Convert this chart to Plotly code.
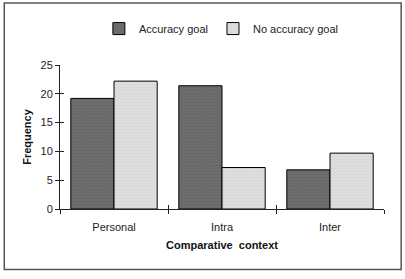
import plotly.graph_objects as go

categories = ["Personal", "Intra", "Inter"]
accuracy_goal = [19.2, 21.4, 6.8]
no_accuracy_goal = [22.2, 7.2, 9.7]
series_names = ["Accuracy goal", "No accuracy goal"]
y_ticks = [0, 5, 10, 15, 20, 25]

FONT = "Liberation Sans, Arial, sans-serif"
DARK = "#6d6d6d"
LIGHT = "#dedede"

fig = go.Figure()
fig.add_trace(go.Bar(x=categories, y=accuracy_goal, name=series_names[0],
                     marker=dict(color=DARK, line=dict(color="black", width=1),
                                 pattern=dict(shape=".", fgcolor="#5a5a5a", bgcolor=DARK,
                                              size=3, solidity=0.25))))
fig.add_trace(go.Bar(x=categories, y=no_accuracy_goal, name=series_names[1],
                     marker=dict(color=LIGHT, line=dict(color="black", width=1),
                                 pattern=dict(shape=".", fgcolor="#c8c8c8", bgcolor=LIGHT,
                                              size=3, solidity=0.25))))
# invisible trace to drive overlay axes (used for crossing tick marks)
fig.add_trace(go.Bar(x=categories, y=accuracy_goal, xaxis="x2", yaxis="y2",
                     marker=dict(opacity=0), showlegend=False, hoverinfo="skip"))

fig.update_layout(
    width=405, height=279,
    margin=dict(l=60, r=21, t=65, b=70),
    paper_bgcolor="white", plot_bgcolor="white",
    font=dict(family=FONT, size=11, color="#222"),
    barmode="group", bargap=0.2, bargroupgap=0,
    showlegend=True,
    legend=dict(orientation="h", x=0.12, xanchor="left", y=1.253, yanchor="middle",
                font=dict(size=11, color="#222"), bgcolor="rgba(0,0,0,0)",
                itemwidth=30, tracegroupgap=0),
    xaxis=dict(type="category", categoryarray=categories, range=[-0.5, 2.5],
               showline=True, linecolor="#222", linewidth=1,
               ticks="outside", tickson="boundaries", ticklen=4, tickcolor="#222",
               ticklabelstandoff=8,
               showgrid=False, zeroline=False,
               title=dict(text="<b>Comparative  context</b>", font=dict(size=11, color="#111"), standoff=9)),
    yaxis=dict(range=[0, 25], tickvals=y_ticks, showline=True, linecolor="#222", linewidth=1,
               ticks="outside", ticklen=4, tickcolor="#222", showgrid=False, zeroline=False,
               title=dict(text="<b>Frequency</b>", font=dict(size=11, color="#111"), standoff=6)),
    xaxis2=dict(type="category", categoryarray=categories, range=[-0.5, 2.5], overlaying="x",
                anchor="y2", ticks="inside", tickson="boundaries", ticklen=4, tickcolor="#222",
                showticklabels=False, showgrid=False, zeroline=False, showline=False),
    yaxis2=dict(range=[0, 25], tickvals=y_ticks, overlaying="y", anchor="x2",
                ticks="inside", ticklen=4, tickcolor="#222",
                showticklabels=False, showgrid=False, zeroline=False, showline=False),
    shapes=[dict(type="rect", xref="paper", yref="paper", x0=-0.172, x1=1.053, y0=-0.42, y1=1.43,
                 line=dict(color="#555", width=1.5), layer="below")],
)

fig.write_html("out.html")
